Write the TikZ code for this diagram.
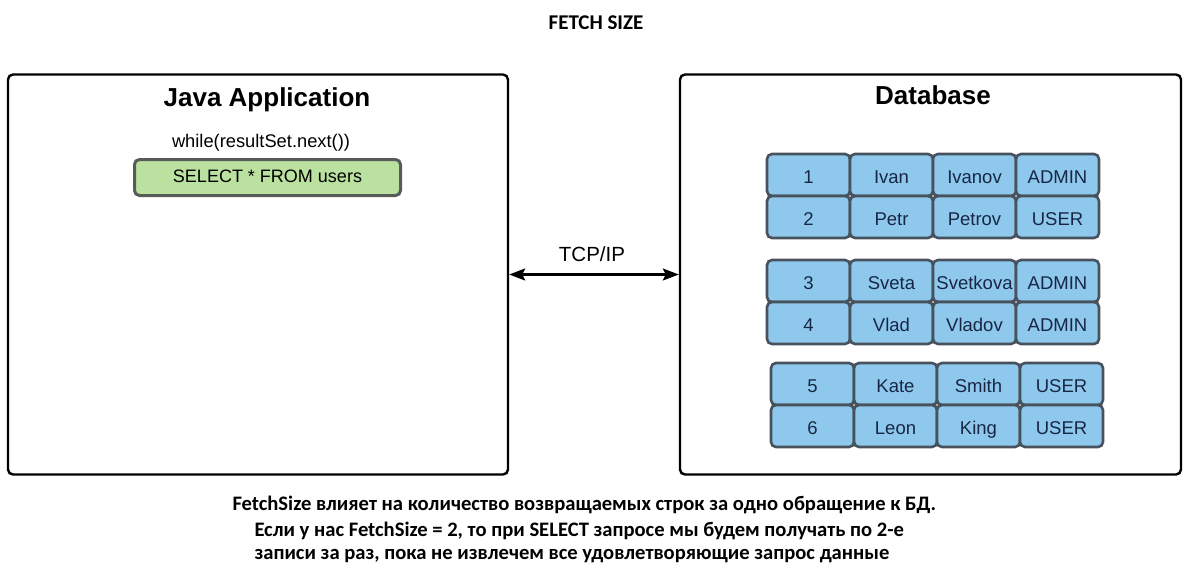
\documentclass[tikz,border=0pt]{standalone}
\usepackage{fontspec}
\setmainfont{Liberation Sans}
\newfontfamily\notefont{Carlito}
\usetikzlibrary{arrows.meta}

\definecolor{cellblue}{RGB}{142,201,237}
\definecolor{cellline}{RGB}{72,82,92}
\definecolor{celltext}{RGB}{24,38,68}
\definecolor{querygreen}{RGB}{186,225,160}
\definecolor{queryline}{RGB}{88,92,88}

\tikzset{
  panel/.style={draw=black,line width=2.4pt,rounded corners=5pt},
  cell/.style={draw=cellline,fill=cellblue,line width=2.6pt,rounded corners=5pt,
    minimum width=83pt,minimum height=42pt,inner sep=0pt,text=celltext,
    text height=20pt,text depth=3pt,
    font=\fontsize{18.5}{18}\selectfont},
  note/.style={anchor=west,font=\notefont\bfseries\fontsize{20.6}{24}\selectfont}
}

\begin{document}
\begin{tikzpicture}[x=1pt,y=-1pt]

\useasboundingbox[fill=white] (0,0) rectangle (1192,579);

\node[font=\notefont\bfseries\fontsize{21}{21}\selectfont] (title) at (596,23) {FETCH SIZE};

% the two sides
\node[panel,minimum width=500pt,minimum height=400pt] (java) at (258,274.5) {};
\node[panel,minimum width=501pt,minimum height=400pt] (db) at (930.5,274.5) {};

\node[font=\bfseries\fontsize{26}{26}\selectfont] (javatitle) at (267,100) {Java Application};
\node[font=\bfseries\fontsize{26}{26}\selectfont] (dbtitle) at (933,95) {Database};

\node[font=\fontsize{18.3}{18}\selectfont] (loop) at (261,143) {while(resultSet.next())};
\node[draw=queryline,fill=querygreen,line width=3pt,rounded corners=5pt,
  minimum width=266pt,minimum height=36pt,inner sep=0pt,
  font=\fontsize{18}{18}\selectfont] (query) at (267.5,177.5) {\raisebox{2pt}{SELECT * FROM users}};

% connection
\draw[line width=2.2pt,{Stealth[length=16pt,width=12pt,inset=3pt]}-{Stealth[length=16pt,width=12pt,inset=3pt]}] (java.east) -- (db.east -| db.west);
\node[font=\fontsize{20.5}{20}\selectfont] (tcp) at (592,254) {TCP/IP};

% table rows
\foreach \row/\x/\y/\id/\name/\last/\role in {
  1/808.5/175/1/Ivan/Ivanov/ADMIN,
  2/808.5/217/2/Petr/Petrov/USER,
  3/808.5/281/3/Sveta/Svetkova/ADMIN,
  4/808.5/323/4/Vlad/Vladov/ADMIN,
  5/812.5/384/5/Kate/Smith/USER,
  6/812.5/426/6/Leon/King/USER}{
  \node[cell] (c\row-1) at (\x,\y) {\id};
  \node[cell] (c\row-2) at (\x+83,\y) {\name};
  \node[cell] (c\row-3) at (\x+166,\y) {\last};
  \node[cell] (c\row-4) at (\x+249,\y) {\role};
}

% explanation
\node[note] (note1) at (229,505) {FetchSize влияет на количество возвращаемых строк за одно обращение к БД.};
\node[note] (note2) at (251,531) {Если у нас FetchSize = 2, то при SELECT запросе мы будем получать по 2-е};
\node[note] (note3) at (251,556) {записи за раз, пока не извлечем все удовлетворяющие запрос данные};

\end{tikzpicture}
\end{document}
